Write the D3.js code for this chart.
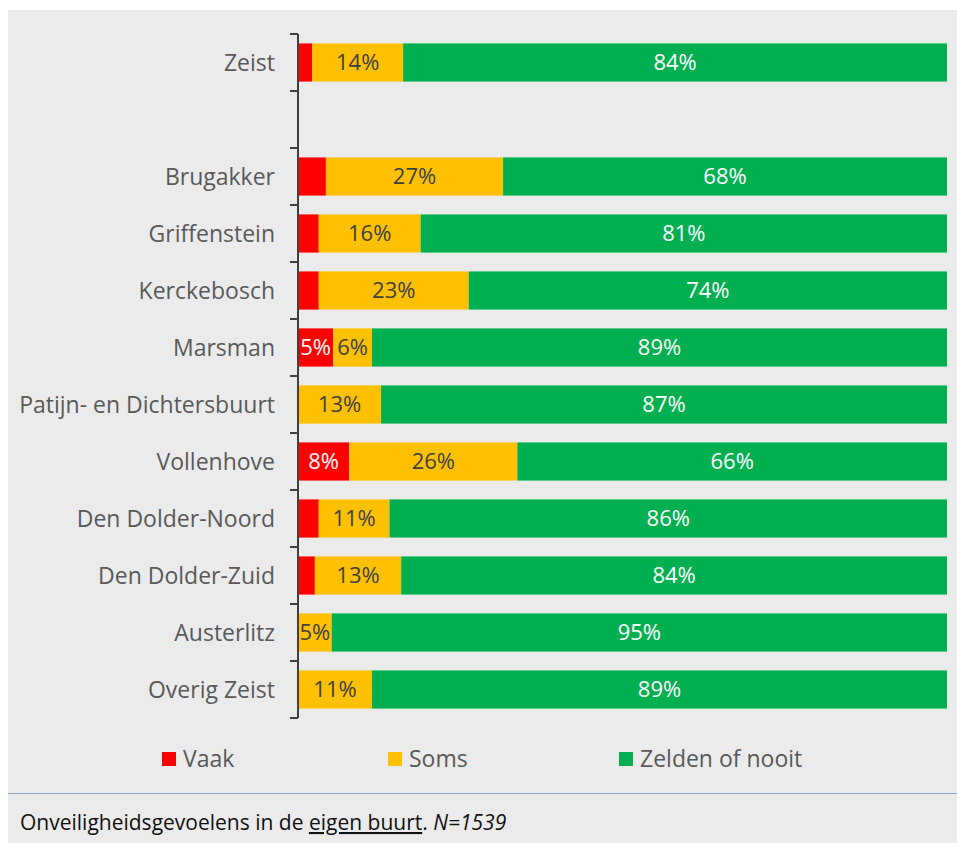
<!DOCTYPE html>
<html>
<head>
<meta charset="utf-8">
<script src="https://cdn.jsdelivr.net/npm/d3@7"></script>
<style>
	body { margin: 0; background: #fff; }
	svg { display: block; font-family: "Open Sans", "Noto Sans", sans-serif; }
</style>
</head>
<body>
<svg id="chart" width="957" height="843"></svg>
<script>
// categories, '' is the empty gap row after Zeist
var categories = ['Zeist', '', 'Brugakker', 'Griffenstein', 'Kerckebosch', 'Marsman',
	'Patijn- en Dichtersbuurt', 'Vollenhove', 'Den Dolder-Noord', 'Den Dolder-Zuid',
	'Austerlitz', 'Overig Zeist'];
var seriesNames = ['Vaak', 'Soms', 'Zelden of nooit'];
var vaak   = [2.2, null, 4.3, 3.2, 3.2, 5.4, 0, 7.9, 3.2, 2.6, 0, 0];
var soms   = [14, null, 27.3, 15.7, 23.1, 6, 12.8, 25.9, 10.9, 13.3, 5.2, 11.4];
var zelden = [83.8, null, 68.4, 81.1, 73.7, 88.6, 87.2, 66.2, 85.9, 84.1, 94.8, 88.6];
var colors = ['#ff0000', '#ffc000', '#00b050'];
var labelColors = ['#ffffff', '#404040', '#ffffff'];

var svg = d3.select('#chart');

// panel background
svg.append('rect').attr('x', 8).attr('y', 10).attr('width', 949).attr('height', 833).attr('fill', '#ebebeb');
svg.append('line').attr('x1', 8).attr('x2', 957).attr('y1', 793.5).attr('y2', 793.5)
	.attr('stroke', '#7fa7cc').attr('stroke-width', 1);

var x = d3.scaleLinear().domain([0, 100]).range([298, 947]);
var y = d3.scaleBand().domain(d3.range(categories.length)).range([34, 718]).paddingInner(0.33).paddingOuter(0.165);

var rows = categories.map((c, i) => ({
	name: c,
	i: i,
	values: [vaak[i], soms[i], zelden[i]]
})).filter(d => d.name !== '');

var segs = [];
rows.forEach(r => {
	var x0 = 0;
	r.values.forEach((v, k) => {
		segs.push({ i: r.i, k: k, x0: x0, v: v });
		x0 += v;
	});
});

svg.selectAll('.seg')
	.data(segs.filter(d => d.v > 0))
	.enter()
	.append('rect')
		.classed('seg', true)
		.attr('x', d => x(d.x0))
		.attr('y', d => y(d.i))
		.attr('width', d => x(d.x0 + d.v) - x(d.x0))
		.attr('height', y.bandwidth())
		.attr('fill', d => colors[d.k]);

svg.selectAll('.lbl')
	.data(segs.filter(d => d.v >= 4.5))
	.enter()
	.append('text')
		.classed('lbl', true)
		.attr('x', d => (x(d.x0) + x(d.x0 + d.v)) / 2)
		.attr('y', d => y(d.i) + y.bandwidth() / 2)
		.attr('dy', '0.36em')
		.attr('text-anchor', 'middle')
		.attr('font-size', 22)
		.attr('fill', d => labelColors[d.k])
		.text(d => Math.round(d.v) + '%');

// axis: vertical line with ticks between rows
var axisG = svg.append('g').attr('stroke', '#404040').attr('stroke-width', 2);
axisG.append('line').attr('x1', 298).attr('x2', 298).attr('y1', 34).attr('y2', 718);
var step = y.step();
axisG.selectAll('.tick')
	.data(d3.range(categories.length + 1))
	.enter()
	.append('line')
		.attr('x1', 290).attr('x2', 298)
		.attr('y1', d => 34 + d * step).attr('y2', d => 34 + d * step);

svg.selectAll('.cat')
	.data(rows)
	.enter()
	.append('text')
		.classed('cat', true)
		.attr('x', 275)
		.attr('y', d => y(d.i) + y.bandwidth() / 2)
		.attr('dy', '0.36em')
		.attr('text-anchor', 'end')
		.attr('font-size', 23)
		.attr('fill', '#595959')
		.text(d => d.name);

// legend
var legendX = [162, 388, 619];
var legend = svg.selectAll('.leg')
	.data(seriesNames)
	.enter()
	.append('g')
		.attr('transform', (d, i) => 'translate(' + legendX[i] + ',759)');
legend.append('rect').attr('x', 0).attr('y', -7).attr('width', 14).attr('height', 14)
	.attr('fill', (d, i) => colors[i]);
legend.append('text').attr('x', 21).attr('dy', '0.36em').attr('font-size', 23)
	.attr('fill', '#595959').text(d => d);

// caption
var cap = svg.append('text').attr('x', 20).attr('y', 830).attr('font-size', 21).attr('fill', '#111');
cap.append('tspan').text('Onveiligheidsgevoelens in de ');
cap.append('tspan').attr('text-decoration', 'underline').text('eigen buurt');
cap.append('tspan').text('. ');
cap.append('tspan').attr('font-style', 'italic').text('N=1539');
</script>
</body>
</html>
